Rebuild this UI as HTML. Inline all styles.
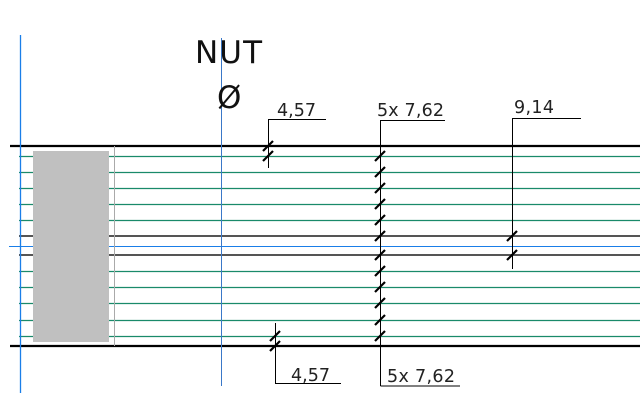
<!DOCTYPE html>
<html><head><meta charset="utf-8"><style>html,body{margin:0;padding:0;background:#fff}svg{display:block}</style></head>
<body>
<svg width="640" height="416" viewBox="0 0 640 416" xmlns="http://www.w3.org/2000/svg" font-family="'DejaVu Sans','Liberation Sans',sans-serif">
<rect width="640" height="416" fill="#fff"/>
<g stroke="#1a8a6a" stroke-width="1.3">
<line x1="19" y1="156.5" x2="640" y2="156.5"/>
<line x1="19" y1="172.5" x2="640" y2="172.5"/>
<line x1="19" y1="188.5" x2="640" y2="188.5"/>
<line x1="19" y1="204.5" x2="640" y2="204.5"/>
<line x1="19" y1="220.5" x2="640" y2="220.5"/>
<line x1="19" y1="271.5" x2="640" y2="271.5"/>
<line x1="19" y1="287.5" x2="640" y2="287.5"/>
<line x1="19" y1="303.5" x2="640" y2="303.5"/>
<line x1="19" y1="320.5" x2="640" y2="320.5"/>
<line x1="19" y1="336.5" x2="640" y2="336.5"/>
</g>
<g stroke="#555" stroke-width="2">
<line x1="19" y1="236" x2="640" y2="236"/>
<line x1="19" y1="255" x2="640" y2="255"/>
</g>
<line x1="9" y1="246.5" x2="640" y2="246.5" stroke="#1a7ee8" stroke-width="1"/>
<g stroke="#000" stroke-width="2.2">
<line x1="10" y1="146" x2="640" y2="146"/>
<line x1="10" y1="346" x2="640" y2="346"/>
</g>
<rect x="33" y="151" width="76" height="191" fill="#c0c0c0"/>
<line x1="114.5" y1="146" x2="114.5" y2="346" stroke="#aaa" stroke-width="1"/>
<line x1="20.5" y1="35" x2="20.5" y2="393" stroke="#1a7ee8" stroke-width="1.3"/>
<line x1="221.5" y1="38" x2="221.5" y2="386" stroke="#3a78c8" stroke-width="1"/>
<text x="195" y="63" font-size="31" fill="#111" textLength="67">NUT</text>
<text x="217" y="108" font-size="31" fill="#111">Ø</text>
<g stroke="#000" stroke-width="1" fill="none">
<polyline points="268.5,168 268.5,119.5 326,119.5"/>
<polyline points="380.5,386 380.5,120.5 445,120.5"/>
<polyline points="512.5,269 512.5,118.5 581,118.5"/>
<polyline points="275.5,323 275.5,383.5 341,383.5"/>
<polyline points="380.5,386 460,386"/>
</g>
<g stroke="#000" stroke-width="2.2">
<path d="M263,151 l10,-10 M263,161 l10,-10"/>
<path d="M375,161 l10,-10 M375,177 l10,-10 M375,193 l10,-10 M375,209 l10,-10 M375,225 l10,-10 M375,241 l10,-10 M375,260 l10,-10 M375,276 l10,-10 M375,292 l10,-10 M375,308 l10,-10 M375,325 l10,-10 M375,341 l10,-10"/>
<path d="M507,241 l10,-10 M507,260 l10,-10"/>
<path d="M270,341 l10,-10 M270,351 l10,-10"/>
</g>
<g font-size="17.5" fill="#222">
<text x="277" y="116" textLength="39">4,57</text>
<text x="377" y="116" textLength="67">5x 7,62</text>
<text x="514" y="113" textLength="40">9,14</text>
<text x="291" y="381" textLength="39">4,57</text>
<text x="387" y="382" textLength="68">5x 7,62</text>
</g>
</svg>
</body></html>
